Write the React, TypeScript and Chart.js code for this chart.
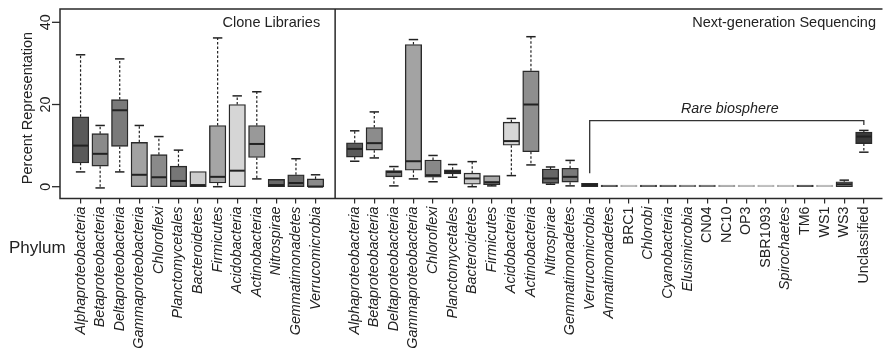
import React, { useEffect, useRef } from "react";
import { Chart, registerables } from "chart.js";

Chart.register(...registerables);

const FONT = '"Liberation Sans", Arial, Helvetica, sans-serif';
const TEXT = "#222222";

// ---- Clone libraries panel ----
const cloneLabels = [
  "Alphaproteobacteria", "Betaproteobacteria", "Deltaproteobacteria", "Gammaproteobacteria",
  "Chloroflexi", "Planctomycetales", "Bacteroidetes", "Firmicutes", "Acidobacteria",
  "Actinobacteria", "Nitrospirae", "Gemmatimonadetes", "Verrucomicrobia",
];
const cloneMin = [3.6, -0.3, 3.6, 0, 0, 0, 0, 0, 0, 1.9, 0, 0, 0];
const cloneQ1 = [5.8, 5.0, 9.8, 0, 0, 0, 0, 0.9, 0, 7.1, 0, 0, 0];
const cloneMedian = [10.0, 8.0, 18.6, 2.9, 2.3, 1.4, 0.4, 2.4, 3.9, 10.4, 0.4, 0.9, 0];
const cloneQ3 = [17.0, 12.9, 21.2, 10.8, 7.8, 5.0, 3.7, 14.9, 20.0, 14.9, 1.8, 2.9, 1.9];
const cloneMax = [32.1, 14.9, 31.1, 14.9, 12.2, 8.9, 3.7, 36.2, 22.1, 23.1, 1.8, 6.8, 2.9];
const cloneColors = [
  "#5a5a5a", "#8a8a8a", "#7a7a7a", "#a2a2a2", "#8a8a8a", "#777777", "#cdcdcd",
  "#a5a5a5", "#d6d6d6", "#999999", "#6a6a6a", "#6a6a6a", "#8a8a8a",
];

// ---- Next-generation sequencing panel ----
const ngsLabels = [
  "Alphaproteobacteria", "Betaproteobacteria", "Deltaproteobacteria", "Gammaproteobacteria",
  "Chloroflexi", "Planctomycetales", "Bacteroidetes", "Firmicutes", "Acidobacteria",
  "Actinobacteria", "Nitrospirae", "Gemmatimonadetes", "Verrucomicrobia", "Armatimonadetes",
  "BRC1", "Chlorobi", "Cyanobacteria", "Elusimicrobia", "CN04", "NC10", "OP3", "SBR1093",
  "Spirochaetes", "TM6", "WS1", "WS3", "Unclassified",
];
const ngsMin = [6.2, 7.0, 0.2, 1.9, 1.2, 2.3, 0, 0.2, 2.7, 5.3, 0.6, 0.2, 0, 0, 0, 0, 0, 0, 0, 0, 0, 0, 0, 0, 0, 0, 8.4];
const ngsQ1 = [7.2, 8.9, 2.4, 4.0, 2.3, 3.1, 0.6, 0.5, 10.1, 8.5, 0.8, 1.1, 0, 0, 0, 0, 0, 0, 0, 0, 0, 0, 0, 0, 0, 0, 10.5];
const ngsMedian = [9.2, 10.6, 3.6, 6.2, 2.8, 3.6, 2.0, 1.1, 11.1, 20.0, 2.0, 2.4, 0.4, 0.1, 0.1, 0.1, 0.1, 0.1, 0.1, 0.1, 0.1, 0.1, 0.1, 0.1, 0.1, 0.6, 12.2];
const ngsQ3 = [10.7, 14.4, 3.9, 34.6, 6.5, 4.1, 3.3, 2.7, 15.7, 28.2, 4.3, 4.5, 0.8, 0.4, 0.4, 0.4, 0.4, 0.4, 0.4, 0.4, 0.4, 0.4, 0.4, 0.4, 0.4, 1.2, 13.3];
const ngsMax = [13.6, 18.2, 4.9, 35.8, 7.6, 5.4, 6.1, 2.7, 16.6, 36.5, 4.8, 6.4, 0.8, 0.4, 0.4, 0.4, 0.4, 0.4, 0.4, 0.4, 0.4, 0.4, 0.4, 0.4, 0.4, 1.6, 13.7];
const ngsColors = [
  "#5a5a5a", "#8c8c8c", "#7c7c7c", "#a3a3a3", "#888888", "#777777", "#c8c8c8",
  "#a8a8a8", "#d6d6d6", "#8e8e8e", "#666666", "#7a7a7a", "#4a4a4a", "#3c3c3c",
  "#aaaaaa", "#444444", "#444444", "#666666", "#555555", "#999999", "#aaaaaa",
  "#b0b0b0", "#aaaaaa", "#333333", "#aaaaaa", "#999999", "#3a3a3a",
];

const plainLabels = ["BRC1", "CN04", "NC10", "OP3", "SBR1093", "TM6", "WS1", "WS3", "Unclassified"];
const yTickValues = [0, 20, 40];
const panelTitles = ["Clone Libraries", "Next-generation Sequencing"];
const rareLabel = "Rare biosphere";
const yTitle = "Percent Representation";
const xTitle = "Phylum";
const bracketLevel = 16.1;
const bracketLeftEnd = 3.3;
const bracketRightEnd = 15.0;
const rareFirst = "Verrucomicrobia";
const rareLast = "Unclassified";

// category positions on the shared x scale
const cloneX = cloneLabels.map((_, i) => i + 1);
const dividerX = cloneLabels.length + 1;
const ngsX = ngsLabels.map((_, i) => i + dividerX + 1);

type Box = { x: number; label: string; min: number; q1: number; med: number; q3: number; max: number; color: string };

const boxes: Box[] = [
  ...cloneLabels.map((label, i) => ({
    x: cloneX[i], label, min: cloneMin[i], q1: cloneQ1[i], med: cloneMedian[i], q3: cloneQ3[i], max: cloneMax[i], color: cloneColors[i],
  })),
  ...ngsLabels.map((label, i) => ({
    x: ngsX[i], label, min: ngsMin[i], q1: ngsQ1[i], med: ngsMedian[i], q3: ngsQ3[i], max: ngsMax[i], color: ngsColors[i],
  })),
];

const labelByX = new Map<number, string>(boxes.map((b) => [b.x, b.label]));
const tickPositions = boxes.map((b) => b.x);
const isFlat = (b: Box) => b.q3 - b.q1 < 0.5;

function labelAt(name: string, ngs: boolean): number {
  return ngs ? ngsX[ngsLabels.indexOf(name)] : cloneX[cloneLabels.indexOf(name)];
}

const extrasPlugin = {
  id: "boxExtras",
  beforeDatasetsDraw(chart: any) {
    const { ctx, scales } = chart;
    const x = scales.x;
    const y = scales.y;
    ctx.save();
    boxes.forEach((b) => {
      if (isFlat(b)) return;
      const cx = x.getPixelForValue(b.x);
      const half = 4.7;
      const seg = (v0: number, v1: number) => {
        ctx.setLineDash([2.5, 2]);
        ctx.lineWidth = 1.2;
        ctx.strokeStyle = "#222";
        ctx.beginPath();
        ctx.moveTo(cx, y.getPixelForValue(v0));
        ctx.lineTo(cx, y.getPixelForValue(v1));
        ctx.stroke();
        ctx.setLineDash([]);
        ctx.lineWidth = 1.5;
        ctx.beginPath();
        ctx.moveTo(cx - half, y.getPixelForValue(v1));
        ctx.lineTo(cx + half, y.getPixelForValue(v1));
        ctx.stroke();
      };
      if (b.max > b.q3) seg(b.q3, b.max);
      if (b.min < b.q1) seg(b.q1, b.min);
    });
    ctx.restore();
  },
  afterDatasetsDraw(chart: any) {
    const { ctx, scales, chartArea } = chart;
    const x = scales.x;
    const y = scales.y;
    const { left, right, top, bottom } = chartArea;
    ctx.save();

    // medians
    boxes.forEach((b) => {
      if (isFlat(b)) return;
      const cx = x.getPixelForValue(b.x);
      const py = y.getPixelForValue(b.med);
      ctx.strokeStyle = "#222";
      ctx.lineWidth = 2;
      ctx.beginPath();
      ctx.moveTo(cx - 7.6, py);
      ctx.lineTo(cx + 7.6, py);
      ctx.stroke();
    });

    // frame
    ctx.strokeStyle = "#2a2a2a";
    ctx.lineWidth = 1.5;
    ctx.beginPath();
    ctx.moveTo(right + 2, top);
    ctx.lineTo(left, top);
    ctx.lineTo(left, bottom);
    ctx.lineTo(right + 2, bottom);
    const dx = x.getPixelForValue(dividerX);
    ctx.moveTo(dx, top);
    ctx.lineTo(dx, bottom);
    ctx.stroke();

    // rare biosphere bracket
    const bx0 = x.getPixelForValue(labelAt(rareFirst, true));
    const bx1 = x.getPixelForValue(labelAt(rareLast, true));
    const by = y.getPixelForValue(bracketLevel);
    ctx.strokeStyle = "#333";
    ctx.lineWidth = 1.3;
    ctx.beginPath();
    ctx.moveTo(bx0, y.getPixelForValue(bracketLeftEnd));
    ctx.lineTo(bx0, by);
    ctx.lineTo(bx1, by);
    ctx.lineTo(bx1, y.getPixelForValue(bracketRightEnd));
    ctx.stroke();

    ctx.fillStyle = TEXT;
    ctx.font = `italic 14.3px ${FONT}`;
    ctx.textAlign = "center";
    ctx.textBaseline = "middle";
    ctx.fillText(rareLabel, (bx0 + bx1) / 2 + 3, y.getPixelForValue(18.8));

    // panel titles
    ctx.font = `14.5px ${FONT}`;
    ctx.textAlign = "right";
    ctx.fillText(panelTitles[0], dx - 15, 22.5);
    ctx.fillText(panelTitles[1], 876, 22.5);

    // y ticks
    ctx.strokeStyle = "#2a2a2a";
    ctx.lineWidth = 1.3;
    ctx.font = `14.3px ${FONT}`;
    ctx.textAlign = "center";
    yTickValues.forEach((v) => {
      const py = y.getPixelForValue(v);
      ctx.beginPath();
      ctx.moveTo(left - 8, py);
      ctx.lineTo(left, py);
      ctx.stroke();
      ctx.save();
      ctx.translate(left - 14, py);
      ctx.rotate(-Math.PI / 2);
      ctx.fillText(String(v), 0, 0);
      ctx.restore();
    });

    // y title
    ctx.save();
    ctx.translate(28, 108);
    ctx.rotate(-Math.PI / 2);
    ctx.font = `14.5px ${FONT}`;
    ctx.fillText(yTitle, 0, 0);
    ctx.restore();

    // x title
    ctx.font = `17px ${FONT}`;
    ctx.textAlign = "left";
    ctx.fillText(xTitle, 9, 248);

    ctx.restore();
  },
};

export default function App() {
  const ref = useRef<HTMLCanvasElement | null>(null);

  useEffect(() => {
    if (!ref.current) return;
    const chart = new Chart(ref.current, {
      type: "bar",
      data: {
        datasets: [
          {
            data: boxes.map((b) => ({ x: b.x, y: [b.q1, b.q3] })) as any,
            backgroundColor: boxes.map((b) => b.color),
            borderColor: boxes.map((b) => (isFlat(b) ? b.color : "#2a2a2a")),
            borderWidth: 1.4,
            borderSkipped: false,
            barThickness: 16.5,
          } as any,
        ],
      },
      options: {
        responsive: false,
        animation: false,
        devicePixelRatio: 1,
        layout: { padding: { top: 9, left: 0, right: 0, bottom: 0 } },
        plugins: { legend: { display: false }, tooltip: { enabled: false } },
        scales: {
          x: {
            type: "linear",
            min: -0.05,
            max: 41.85,
            offset: false,
            afterBuildTicks: (s: any) => {
              s.ticks = tickPositions.map((v) => ({ value: v }));
            },
            afterFit: (s: any) => {
              s.height = 153.5;
            },
            border: { display: false },
            grid: {
              display: true,
              offset: false,
              drawOnChartArea: false,
              drawTicks: true,
              tickLength: 5,
              color: "#2a2a2a",
              lineWidth: 1.2,
            },
            ticks: {
              autoSkip: false,
              minRotation: 90,
              maxRotation: 90,
              padding: 3,
              color: TEXT,
              callback: (v: any) => labelByX.get(Number(v)) ?? "",
              font: (c: any) => {
                const lbl = labelByX.get(c.tick?.value) ?? "";
                return {
                  family: FONT,
                  size: 14.3,
                  style: plainLabels.includes(lbl) ? "normal" : "italic",
                } as any;
              },
            },
          },
          y: {
            type: "linear",
            min: -2.87,
            max: 43.24,
            afterFit: (s: any) => {
              s.width = 60;
            },
            border: { display: false },
            grid: { display: false },
            ticks: { display: false },
          },
        },
      } as any,
      plugins: [extrasPlugin],
    });
    return () => chart.destroy();
  }, []);

  return (
    <div style={{ position: "absolute", left: 0, top: 0, width: 884, height: 352, background: "#fff" }}>
      <canvas ref={ref} width={884} height={352} style={{ display: "block" }} />
    </div>
  );
}
